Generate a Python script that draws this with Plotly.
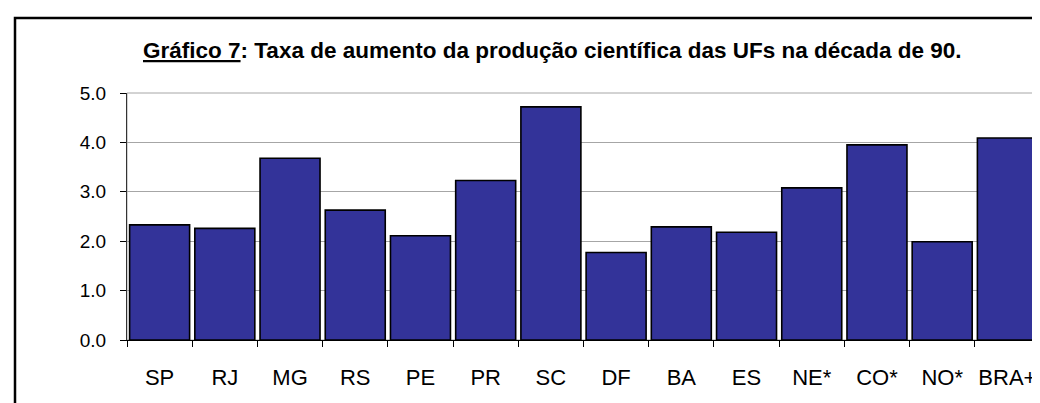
import plotly.graph_objects as go

categories = ["SP", "RJ", "MG", "RS", "PE", "PR", "SC", "DF", "BA", "ES", "NE*", "CO*", "NO*", "BRA+"]
values = [2.33, 2.26, 3.68, 2.63, 2.11, 3.23, 4.72, 1.77, 2.29, 2.18, 3.08, 3.95, 1.99, 4.09]
y_ticks = [0, 1, 2, 3, 4, 5]
title_text = "<u>Gráfico 7</u>: Taxa de aumento da produção científica das UFs na década de 90."

W, H = 1040, 403
L, R, T, B = 119, 1032, 85, 332  # plot area in pixels

def px_x(p):
    return (p - L) / (R - L)

def px_y(p):
    return (B - p) / (B - T)

fig = go.Figure()
fig.add_trace(go.Bar(
    x=categories, y=values,
    marker=dict(color="#333399", line=dict(color="#000000", width=1.6)),
))

fig.update_layout(
    width=W, height=H,
    margin=dict(l=L, r=W - R, t=T, b=H - B, pad=0, autoexpand=False),
    paper_bgcolor="white", plot_bgcolor="white",
    bargap=0.08,
    showlegend=False,
    font=dict(family="Arial, Liberation Sans, sans-serif", color="black"),
    xaxis=dict(
        type="category", showgrid=False, showline=True, linecolor="black", linewidth=1,
        ticks="outside", tickson="boundaries", ticklen=6, tickcolor="black", tickwidth=1,
        tickfont=dict(size=22), ticklabelstandoff=18, tickangle=0, automargin=False,
    ),
    yaxis=dict(
        range=[0, 5], tickvals=y_ticks, tickformat=".1f",
        showgrid=True, gridcolor="#a6a6a6", gridwidth=1,
        showline=True, linecolor="#333333", linewidth=1,
        ticks="outside", ticklen=6, tickcolor="black",
        tickfont=dict(size=19), ticklabelstandoff=10, zeroline=False, automargin=False,
    ),
    shapes=[
        dict(type="rect", xref="paper", yref="paper", x0=0, x1=1, y0=0, y1=1,
             line=dict(color="#a6a6a6", width=1), layer="below"),
        dict(type="rect", xref="paper", yref="paper",
             x0=px_x(7), x1=px_x(1050), y0=px_y(420), y1=px_y(10),
             line=dict(color="black", width=2.5)),
    ],
    annotations=[
        dict(text="<b>" + title_text + "</b>", xref="paper", yref="paper",
             x=px_x(544), y=px_y(42), xanchor="center", yanchor="middle",
             showarrow=False,
             font=dict(family="Liberation Sans, Arial, sans-serif",
                       size=22.5, color="black")),
    ],
)

fig.write_html("out.html")
